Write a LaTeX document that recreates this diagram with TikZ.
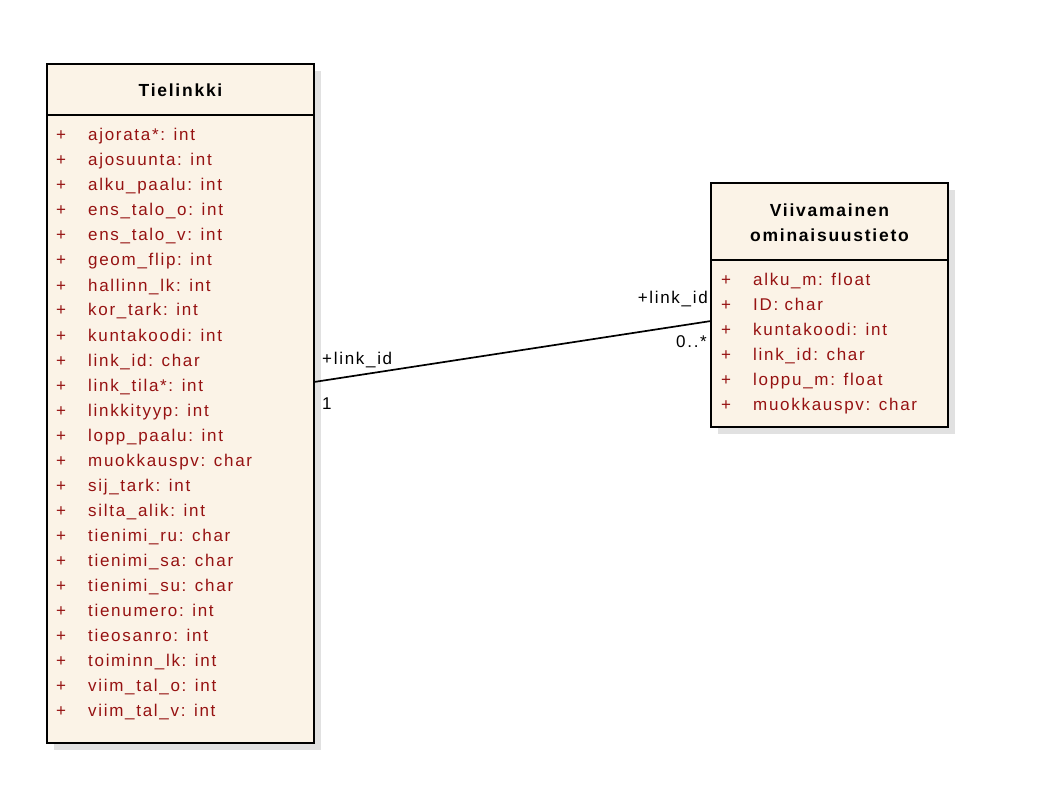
\documentclass[tikz,border=0pt]{standalone}
\usepackage{fontspec}
\setmainfont{Liberation Sans}[LetterSpace=10]
\usetikzlibrary{positioning,calc}
\definecolor{umlfill}{RGB}{251,243,231}
\definecolor{umltext}{RGB}{150,18,18}
\definecolor{umlshadow}{RGB}{225,225,225}

\begin{document}
\begin{tikzpicture}[
  x=1pt, y=-1pt,
  classbox/.style={draw=black, line width=2.5pt, fill=umlfill, anchor=north west,
                   inner sep=0pt, outer sep=0pt},
  shadowbox/.style={fill=umlshadow, anchor=north west, inner sep=0pt, outer sep=0pt},
  classtitle/.style={font=\fontsize{17.5}{25}\selectfont\bfseries, anchor=base, inner sep=0pt},
  attrplus/.style={font=\fontsize{17}{25}\selectfont, text=umltext, anchor=base west, inner sep=0pt},
  attrtext/.style={attrplus},
  rolelabel/.style={font=\fontsize{17}{25}\selectfont, inner sep=1pt, fill=white},
  assoc/.style={line width=1.7pt, draw=black}
]
  \useasboundingbox (0,0) rectangle (1048,791);

  % --- Shadows ---
  \node[shadowbox, minimum width=267pt, minimum height=679pt] (tieshadow) at (54,71) {};
  \node[shadowbox, minimum width=237pt, minimum height=244pt] (viivashadow) at (718,190) {};

  % --- Class boxes ---
  \node[classbox, minimum width=267pt, minimum height=679pt] (tie) at (47,64) {};
  \node[classbox, minimum width=237pt, minimum height=244pt] (viiva) at (711,183) {};

  % --- Title compartments ---
  \draw[line width=2.5pt] ($(tie.north west)+(0,51)$) -- ($(tie.north east)+(0,51)$);
  \draw[line width=2.5pt] ($(viiva.north west)+(0,77)$) -- ($(viiva.north east)+(0,77)$);
  \node[classtitle] (tietitle) at ($(tie.north)+(0,33)$) {Tielinkki};
  \node[classtitle] (viivatitle1) at ($(viiva.north)+(0,34)$) {Viivamainen};
  \node[classtitle] (viivatitle2) at ($(viiva.north)+(0,59)$) {ominaisuustieto};

  % --- Attributes: Tielinkki ---
  \foreach \attr [count=\i] in {ajorata*: int, ajosuunta: int, alku\_paalu: int,
      ens\_talo\_o: int, ens\_talo\_v: int, geom\_flip: int, hallinn\_lk: int,
      kor\_tark: int, kuntakoodi: int, link\_id: char, link\_tila*: int,
      linkkityyp: int, lopp\_paalu: int, muokkauspv: char, sij\_tark: int,
      silta\_alik: int, tienimi\_ru: char, tienimi\_sa: char, tienimi\_su: char,
      tienumero: int, tieosanro: int, toiminn\_lk: int, viim\_tal\_o: int,
      viim\_tal\_v: int}{
    \pgfmathsetmacro{\yb}{141+25*(\i-1)}
    \node[attrplus] (tieplus\i) at (56,\yb) {+};
    \node[attrtext] (tieattr\i) at (88,\yb) {\attr};
  }

  % --- Attributes: Viivamainen ominaisuustieto ---
  \foreach \attr [count=\i] in {alku\_m: float, ID: char, kuntakoodi: int,
      link\_id: char, loppu\_m: float, muokkauspv: char}{
    \pgfmathsetmacro{\yb}{285+25*(\i-1)}
    \node[attrplus] (viivaplus\i) at (721,\yb) {+};
    \node[attrtext] (viivaattr\i) at (753,\yb) {\attr};
  }

  % --- Association ---
  \coordinate (tielink) at ($(tie.north east)+(0,318)$);
  \coordinate (viivalink) at ($(viiva.north west)+(0,138)$);
  \draw[assoc] (tielink) -- (viivalink);
  \node[rolelabel, anchor=base west] (tierole) at ($(tielink)+(7,-18)$) {+link\_id};
  \node[rolelabel, anchor=base west] (tiemult) at ($(tielink)+(7,27)$) {1};
  \node[rolelabel, anchor=base east] (viivarole) at ($(viivalink)+(-2,-18)$) {+link\_id};
  \node[rolelabel, anchor=base east] (viivamult) at ($(viivalink)+(-3,26)$) {0..*};
\end{tikzpicture}
\end{document}
